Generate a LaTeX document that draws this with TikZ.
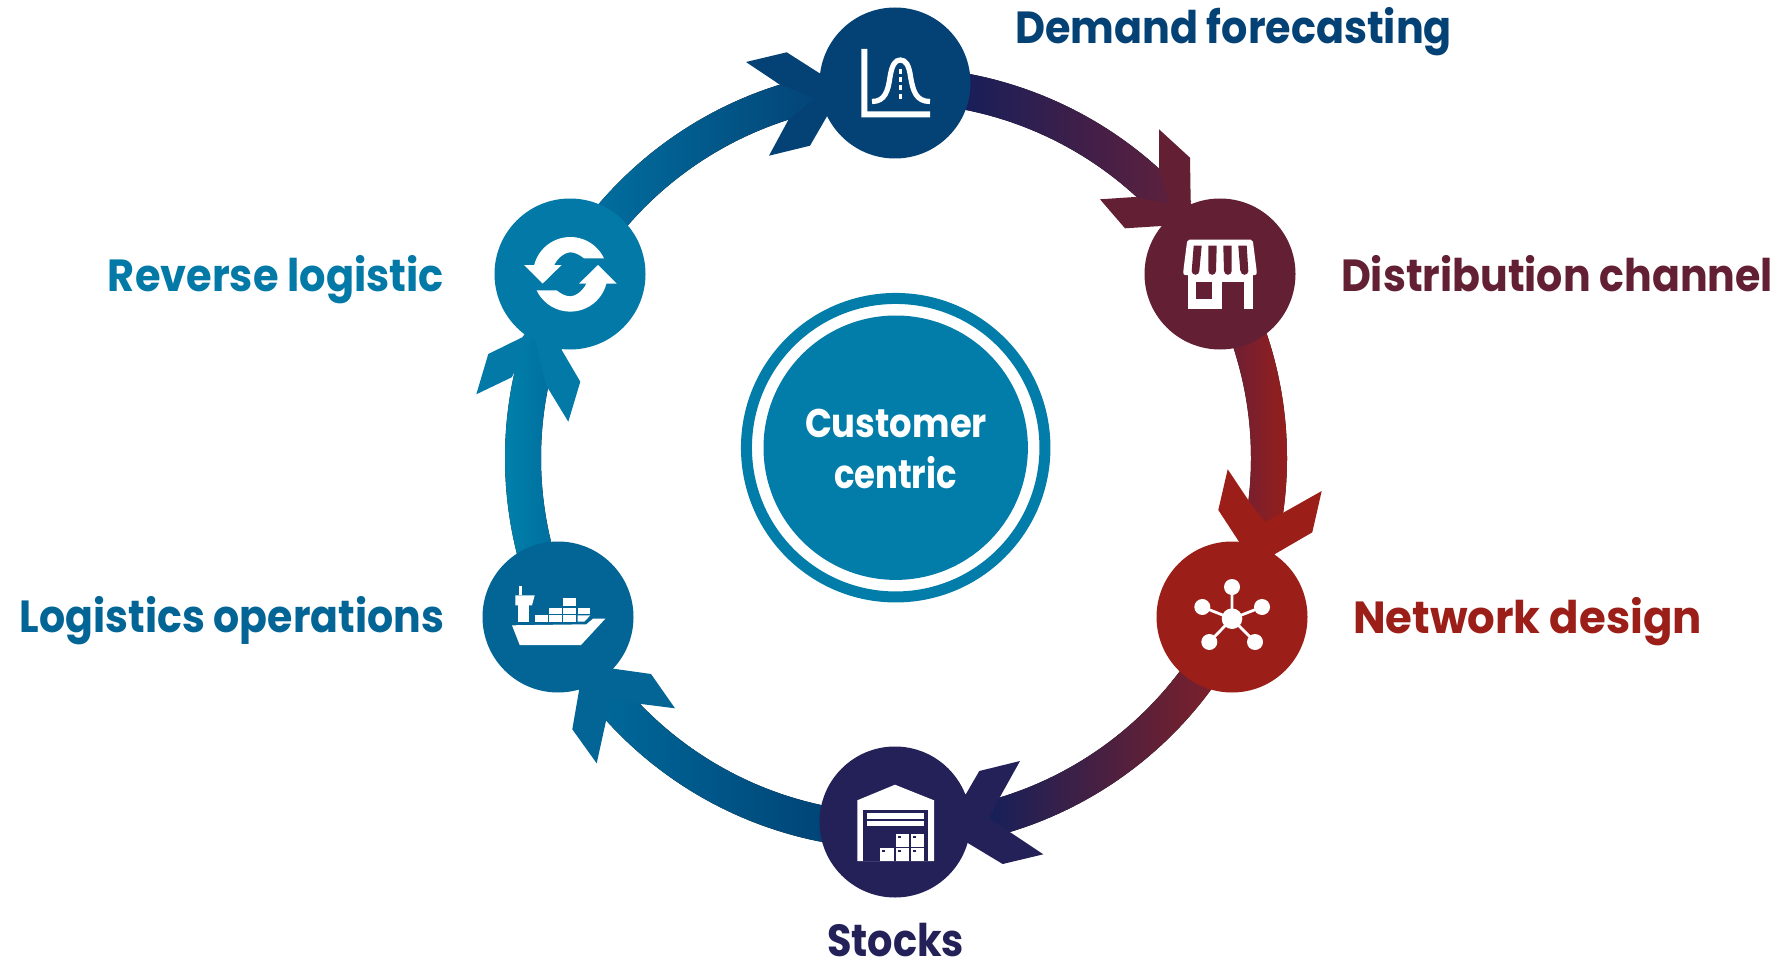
\documentclass[tikz,border=0pt]{standalone}
\usepackage{fontspec}
\usepackage{graphicx}
\usetikzlibrary{calc}
\setmainfont{Poppins Bold}
\definecolor{cDemand}{HTML}{044275}
\definecolor{cDist}{HTML}{631F33}
\definecolor{cNet}{HTML}{9B1E18}
\definecolor{cStock}{HTML}{232157}
\definecolor{cLog}{HTML}{026596}
\definecolor{cRev}{HTML}{0279A6}
\definecolor{cCore}{HTML}{027DA9}
\definecolor{gA}{HTML}{0078A8}
\definecolor{gB}{HTML}{0C1E5E}
\definecolor{gC}{HTML}{64203A}
\definecolor{gD}{HTML}{10205C}
\definecolor{gE}{HTML}{852026}
\definecolor{gF}{HTML}{006A9C}
\definecolor{gG}{HTML}{003E70}
\definecolor{gH}{HTML}{0084AC}
\tikzset{
  hubdisc/.style={circle,minimum size=75.5pt,inner sep=0pt,outer sep=0pt},
  steplabel/.style={inner sep=0pt,outer sep=0pt,font=\fontsize{22.5pt}{27pt}\selectfont},
  corelabel/.style={inner sep=0pt,outer sep=0pt,anchor=base,text=white,font=\fontsize{20pt}{24pt}\selectfont},
  icon/.style={fill=white,draw=none},
}
\newcommand\fitw[2]{\resizebox{#1}{\height}{#2}}
% shaft: from angle, to angle, left colour, right colour
\newcommand\shaft[4]{%
  \fill[left color=#3,right color=#4]
    ($(hub)+(#1:355)$) arc[start angle=#1,end angle=#2,radius=355]
    -- ($(hub)+(#2:391)$)
    arc[start angle=#2,end angle=#1,radius=391] -- cycle;}
\newcommand\shopslot[4]{%
  \fill[cDist] (#1,-28.3) -- (#2,-28.3) -- (#4,-3) arc[start angle=0,end angle=180,radius=3.8] -- (#3,-3) -- cycle;}
\newcommand\boxlabel[2]{\fill[white] (#1,#2) rectangle ++(13.3,12.2); \fill[cStock] (#1+1.8,#2+2) rectangle ++(3.3,1.7);}
\begin{document}
\begin{tikzpicture}[x=0.5pt,y=-0.5pt]
\useasboundingbox (0,0) rectangle (1784,963);
\fill[white] (0,0) rectangle (1784,963);
\coordinate (hub) at (896,458);
\path (895,83) coordinate (demandC)
      (1220,274) coordinate (distC)
      (1232,617) coordinate (netC)
      (895,822) coordinate (stockC)
      (558,617) coordinate (logiC)
      (570,274) coordinate (revC);
% gradient shafts, running under the heads
\shaft{205}{259}{gA}{cDemand}
\shaft{-85}{-41}{gB}{gC}
\shaft{-25}{12}{gC}{cNet}
\shaft{30}{77}{gD}{gE}
\shaft{95}{142}{gF}{gG}
\shaft{160}{201}{gH}{gF}
% barbed heads, with a V cut where the shaft shows through
\fill[cDemand,shift={(demandC)}] (-115.7,1.3) -- (-149,-21) -- (-108.3,-30.7) -- (-74.3,-9) -- (0,0) -- (-67.7,32.7) -- (-85,62.7) -- (-126,72.7) -- (-106.7,37) -- (-80,15) -- cycle;
\fill[cDist,shift={(distC)}] (-61,-104.7) -- (-61,-144.7) -- (-30,-116.3) -- (-29.3,-71.3) -- (0,0) -- (-58.3,-48) -- (-95,-45.7) -- (-120,-74.7) -- (-85,-77) -- (-50,-70) -- cycle;
\fill[cNet,shift={(netC)}] (51.3,-104.3) -- (89.7,-126) -- (80.3,-84.7) -- (43,-63) -- (0,0) -- (7,-75.3) -- (-13.7,-107) -- (-4.3,-147.7) -- (17.3,-115.3) -- (33,-95.3) -- cycle;
\fill[cStock,shift={(stockC)}] (104,-23.3) -- (125,-61) -- (84.3,-51) -- (71,-28) -- (0,0) -- (73.3,21.3) -- (107.7,42) -- (148.3,32.3) -- (116.7,11.3) -- (94,-3.7) -- cycle;
\fill[cLog,shift={(logiC)}] (77.7,86.3) -- (117,91.3) -- (93,57) -- (55.3,51.7) -- (0,0) -- (21,73.7) -- (14.3,112.3) -- (38.7,146.3) -- (47.7,105.3) -- (52,81.3) -- cycle;
\fill[cRev,shift={(revC)}] (-24,111) -- (-1.7,147.7) -- (10.3,107.7) -- (-8.3,76) -- (0,0) -- (-47.7,63.3) -- (-81.7,80) -- (-93.7,120.3) -- (-58.3,103.3) -- (-36,61) -- cycle;
% discs
\node[hubdisc,fill=cDemand] (demand) at (demandC) {};
\node[hubdisc,fill=cDist] (dist) at (distC) {};
\node[hubdisc,fill=cNet] (net) at (netC) {};
\node[hubdisc,fill=cStock] (stock) at (stockC) {};
\node[hubdisc,fill=cLog] (logi) at (logiC) {};
\node[hubdisc,fill=cRev] (rev) at (revC) {};
% chart icon
\begin{scope}[shift={(demand.center)}]
  \fill[icon] (-33.7,-34) -- (-27.7,-34) -- (-27.7,28.3) -- (35,28.3) -- (35,34.3) -- (-33.7,34.3) -- cycle;
  \draw[white,line width=2.6pt] (-23,18.5) .. controls (-10,18.5) and (-7,8) .. (-5,-6) .. controls (-3,-18) and (0,-23) .. (5.3,-23) .. controls (10.6,-23) and (14,-18) .. (15.6,-6) .. controls (18,8) and (21,18.5) .. (35,18.5);
  \draw[white,line width=1.5pt,dash pattern=on 2.5pt off 1.6pt] (5.3,-14) -- (5.3,18.5);
\end{scope}
% shop icon
\begin{scope}[shift={(dist.center)}]
  \fill[icon,rounded corners=1pt] (-32.7,-34.3) -- (32.7,-34.3) -- (36.7,-3) -- (36.7,1) -- (-36.7,1) -- (-36.7,-3) -- cycle;
  \shopslot{-26.3}{-18.3}{-28.3}{-20.7}
  \shopslot{-11.7}{-3.3}{-11.7}{-4}
  \shopslot{3.3}{11.7}{4}{11.7}
  \shopslot{18.3}{26.7}{20.3}{28.3}
  \fill[icon] (-32.3,0.7) rectangle (32.7,34.7);
  \fill[cDist] (-24.3,8) rectangle (-8,24.7);
  \fill[cDist] (1.7,8) rectangle (24.3,34.7);
\end{scope}
% network icon
\begin{scope}[shift={(net.center)}]
  \draw[white,line width=1.4pt] (0,1.7) -- (0,-30) (0,1.7) -- (-29.7,-10) (0,1.7) -- (30,-10) (0,1.7) -- (-22.7,25) (0,1.7) -- (23,25);
  \fill[icon] (0,1.7) circle[radius=10.3];
  \foreach \p in {(0,-30),(-29.7,-10),(30,-10),(-22.7,25),(23,25)} \fill[icon] \p circle[radius=8];
\end{scope}
% warehouse icon
\begin{scope}[shift={(stock.center)}]
  \fill[icon] (-37.7,-21.7) -- (0,-37.3) -- (39,-21.7) -- (39,39) -- (-37.7,39) -- cycle;
  \fill[cStock] (-31.7,-12.3) rectangle (33,39);
  \fill[icon] (-28,-8.7) rectangle (29,-3.3);
  \fill[icon] (-28,-1) rectangle (29,4.3);
  \boxlabel{0.7}{12.3}
  \boxlabel{15.7}{12.3}
  \boxlabel{-14.7}{26.3}
  \boxlabel{0.7}{26.3}
  \boxlabel{15.7}{26.3}
\end{scope}
% ship icon
\begin{scope}[shift={(logi.center)}]
  \fill[icon] (-46,8.3) -- (28.3,7.3) -- (35,1.7) -- (47.3,1.7) -- (23,28) -- (-38.3,28) -- cycle;
  \fill[icon] (-40.3,-11.7) rectangle (-28.7,4.7);
  \fill[icon] (-42.7,-21.7) -- (-23.3,-21.7) -- (-26,-11.7) -- (-42.7,-11.7) -- cycle;
  \fill[icon] (-39.3,-30.7) rectangle (-36,-21.7);
  \fill[icon] (-22.7,-1.7) rectangle (-10.3,4.7);
  \fill[icon] (-8.7,-9.3) rectangle (4.3,-2.7);
  \fill[icon] (-8.7,-1.7) rectangle (4.3,5.3);
  \fill[icon] (5.3,-9.3) rectangle (18.3,-2.7);
  \fill[icon] (5.3,-18.7) rectangle (18.3,-11.3);
  \fill[icon] (5.3,-1.7) rectangle (18.3,4.7);
  \fill[icon] (19.7,-9.3) rectangle (32.3,-3.3);
  \fill[icon] (19.7,-1.7) -- (32.3,-1.7) -- (26.3,4.7) -- (19.7,4.7) -- cycle;
\end{scope}
% recycle icon
\begin{scope}[shift={(rev.center)}]
  \foreach \r in {0,180} {
  \fill[icon,shift={(0.3,0.3)},rotate=\r] (33.7,-16) arc[start angle=-25.4,end angle=-165.6,radius=37.3] -- (-46.3,-9.3) -- (-27.7,9.3) -- (-8.7,-9.3) -- (-16,-9.3) .. controls (-12,-18) and (-4,-22) .. (0,-22) .. controls (5,-22) and (10,-19) .. (13.7,-16) -- cycle;
  }
\end{scope}
% central badge
\node[circle,draw=cCore,line width=5.5pt,minimum size=149.25pt,inner sep=0pt] (ring) at (895.7,447.7) {};
\node[circle,fill=cCore,minimum size=132.2pt,inner sep=0pt] (core) at (ring.center) {};
\node[corelabel] (customer) at (896,437) {\fitw{91pt}{Customer}};
\node[corelabel] (centric) at (895.5,488) {\fitw{61.5pt}{centric}};
% labels
\node[steplabel,anchor=base west,text=cDemand] (tdemand) at (1015,44) {\fitw{218.5pt}{Demand forecasting}};
\node[steplabel,anchor=base west,text=cDist] (tdist) at (1341,291) {\fitw{216pt}{Distribution channel}};
\node[steplabel,anchor=base west,text=cNet] (tnet) at (1353,633) {\fitw{174.5pt}{Network design}};
\node[steplabel,anchor=base,text=cStock] (tstock) at (895.5,956) {\fitw{68.5pt}{Stocks}};
\node[steplabel,anchor=base east,text=cLog] (tlogi) at (444,632) {\fitw{212pt}{Logistics operations}};
\node[steplabel,anchor=base east,text=cRev] (trev) at (444,291) {\fitw{168pt}{Reverse logistic}};
\end{tikzpicture}
\end{document}
